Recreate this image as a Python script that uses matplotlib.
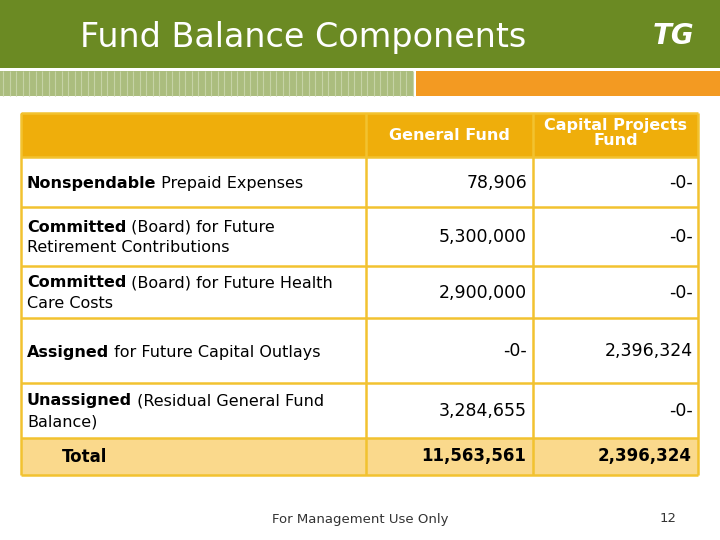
"""Fund Balance Components - slide table recreated with matplotlib."""
import numpy as np
import matplotlib.pyplot as plt
from matplotlib.patches import Rectangle

title = "Fund Balance Components"
col_headers = ["General Fund", "Capital Projects\nFund"]

bold_parts = ["Nonspendable", "Committed", "Committed", "Assigned", "Unassigned"]
rest_parts = [" Prepaid Expenses", " (Board) for Future", " (Board) for Future Health",
              " for Future Capital Outlays", " (Residual General Fund"]
second_lines = [None, "Retirement Contributions", "Care Costs", None, "Balance)"]

general_fund = ["78,906", "5,300,000", "2,900,000", "-0-", "3,284,655"]
capital_fund = ["-0-", "-0-", "-0-", "2,396,324", "-0-"]
totals = ["11,563,561", "2,396,324"]

footer = "For Management Use Only"
page_no = "12"

GREEN = "#6b8a23"
LIGHT_GREEN = "#abbd7e"
STRIPE_LINE = "#c6d3a6"
ORANGE = "#f39a22"
HEAD = "#efae0b"
TOTAL_FILL = "#fad98c"
BORDER = "#f2c230"

fig = plt.figure(figsize=(7.2, 5.4), dpi=100)
ax = fig.add_axes([0, 0, 1, 1])
ax.set_xlim(0, 720)
ax.set_ylim(540, 0)
ax.axis("off")

# banner and stripe
ax.add_patch(Rectangle((0, 0), 720, 68, color=GREEN, lw=0))
ax.add_patch(Rectangle((0, 71), 413, 25, color=LIGHT_GREEN, lw=0))
ax.vlines(np.arange(3, 413, 6.5), 71, 96, color=STRIPE_LINE, lw=0.8)
ax.add_patch(Rectangle((416, 71), 304, 25, color=ORANGE, lw=0))
ax.text(80, 37, title, color="white", fontsize=24, va="center", ha="left")
ax.text(673, 36, "TG", color="white", fontsize=20, fontweight="bold", style="italic",
        va="center", ha="center")

# table geometry
x0, x1, x2, x3 = 21, 366, 533, 698
row_edges = [113, 157, 207, 266, 318, 383, 438, 475]

ax.add_patch(Rectangle((x0, row_edges[0]), x3 - x0, row_edges[1] - row_edges[0],
                       color=HEAD, lw=0))
ax.add_patch(Rectangle((x0, row_edges[-2]), x3 - x0, row_edges[-1] - row_edges[-2],
                       color=TOTAL_FILL, lw=0))
for y in row_edges:
    ax.plot([x0, x3], [y, y], color=BORDER, lw=1.8, solid_capstyle="butt")
for x in (x0, x1, x2, x3):
    ax.plot([x, x], [row_edges[0], row_edges[-1]], color=BORDER, lw=1.8,
            solid_capstyle="butt")

# headers
hy = (row_edges[0] + row_edges[1]) / 2
ax.text((x1 + x2) / 2, hy, col_headers[0], color="white", fontsize=11.5,
        fontweight="bold", ha="center", va="center")
ax.text((x2 + x3) / 2, hy - 2, col_headers[1], color="white", fontsize=11.5,
        fontweight="bold", ha="center", va="center", linespacing=1.0)

fig.canvas.draw()
renderer = fig.canvas.get_renderer()
inv = ax.transData.inverted()

fs = 11.5
nfs = 12.5
for i in range(len(bold_parts)):
    top, bot = row_edges[i + 1], row_edges[i + 2]
    mid = (top + bot) / 2
    if second_lines[i] is None:
        y1 = mid + 6
    else:
        y1 = mid - 5
    t = ax.text(27, y1, bold_parts[i], fontsize=fs, fontweight="bold",
                ha="left", va="baseline")
    bb = t.get_window_extent(renderer)
    xr = inv.transform((bb.x1, bb.y0))[0]
    ax.text(xr, y1, rest_parts[i], fontsize=fs, ha="left", va="baseline")
    if second_lines[i] is not None:
        ax.text(27, y1 + 21, second_lines[i], fontsize=fs, ha="left", va="baseline")
    ax.text(x2 - 6, mid + 6, general_fund[i], fontsize=nfs, ha="right", va="baseline")
    ax.text(x3 - 5, mid + 6, capital_fund[i], fontsize=nfs, ha="right", va="baseline")

ty = (row_edges[-2] + row_edges[-1]) / 2
ax.text(62, ty, "Total", fontsize=12, fontweight="bold", ha="left", va="center")
ax.text(x2 - 7, ty, totals[0], fontsize=12, fontweight="bold", ha="right", va="center")
ax.text(x3 - 6, ty, totals[1], fontsize=12, fontweight="bold", ha="right", va="center")

ax.text(360, 519, footer, fontsize=9.5, color="#333333", ha="center", va="center")
ax.text(668, 519, page_no, fontsize=9.5, color="#333333", ha="center", va="center")

fig.savefig("out.png", dpi=100)
